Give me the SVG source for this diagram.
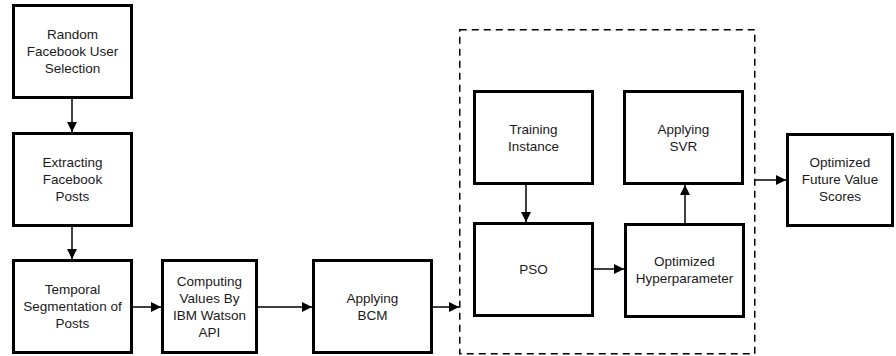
<svg xmlns="http://www.w3.org/2000/svg" width="896" height="356" viewBox="0 0 896 356">
<style>
.box{fill:#fff;stroke:#000;stroke-width:3}
.dash{fill:none;stroke:#000;stroke-width:1.5;stroke-dasharray:7 5}
.c{fill:none;stroke:#000;stroke-width:1.5;marker-end:url(#ah)}
text{font-family:"Liberation Sans",Arial,sans-serif;font-size:13.5px;fill:#1a1a1a;text-anchor:middle}
</style>
<defs>
<marker id="ah" markerUnits="userSpaceOnUse" markerWidth="11" markerHeight="11" refX="10" refY="5" orient="auto">
<path d="M0,0 L10,5 L0,10 z" fill="#000"/>
</marker>
</defs>
<rect width="896" height="356" fill="#fff"/>
<g id="connectors">
<line class="c" x1="72" y1="99" x2="72" y2="132"/>
<line class="c" x1="72" y1="227" x2="72" y2="259"/>
<line class="c" x1="133" y1="307" x2="161" y2="307"/>
<line class="c" x1="258" y1="307" x2="312" y2="307"/>
<line class="c" x1="433" y1="307" x2="459" y2="307"/>
<line class="c" x1="526" y1="185" x2="526" y2="222"/>
<line class="c" x1="685" y1="223" x2="685" y2="185"/>
<line class="c" x1="594" y1="269" x2="624" y2="269"/>
<line class="c" x1="755" y1="180" x2="786" y2="180"/>
</g>
<g id="group-box"><rect class="dash" x="459.75" y="29.75" width="295" height="324"/></g>
<g id="n1"><rect class="box" x="13.5" y="5.5" width="118" height="92"/>
<text x="72.5" y="39">Random</text><text x="72.5" y="56">Facebook User</text><text x="72.5" y="73">Selection</text></g>
<g id="n2"><rect class="box" x="13.5" y="133.5" width="118" height="92"/>
<text x="72.5" y="167">Extracting</text><text x="72.5" y="184">Facebook</text><text x="72.5" y="201">Posts</text></g>
<g id="n3"><rect class="box" x="13.5" y="260.5" width="118" height="92"/>
<text x="72.5" y="294">Temporal</text><text x="72.5" y="311">Segmentation of</text><text x="72.5" y="328">Posts</text></g>
<g id="n4"><rect class="box" x="162.5" y="260.5" width="94" height="92"/>
<text x="209.5" y="285.5">Computing</text><text x="209.5" y="302.5">Values By</text><text x="209.5" y="319.5">IBM Watson</text><text x="209.5" y="336.5">API</text></g>
<g id="n5"><rect class="box" x="313.5" y="260.5" width="118" height="92"/>
<text x="372.5" y="302.5">Applying</text><text x="372.5" y="319.5">BCM</text></g>
<g id="n6"><rect class="box" x="474.5" y="91.5" width="118" height="92"/>
<text x="533.5" y="134">Training</text><text x="533.5" y="151">Instance</text></g>
<g id="n7"><rect class="box" x="624.5" y="91.5" width="118" height="92"/>
<text x="683.5" y="134">Applying</text><text x="683.5" y="151">SVR</text></g>
<g id="n8"><rect class="box" x="474.5" y="223.5" width="118" height="92"/>
<text x="533.5" y="274">PSO</text></g>
<g id="n9"><rect class="box" x="625.5" y="224.5" width="118" height="92"/>
<text x="684.5" y="266">Optimized</text><text x="684.5" y="283">Hyperparameter</text></g>
<g id="n10"><rect class="box" x="787.5" y="134.5" width="105" height="91"/>
<text x="840" y="167">Optimized</text><text x="840" y="184">Future Value</text><text x="840" y="201">Scores</text></g>
</svg>
